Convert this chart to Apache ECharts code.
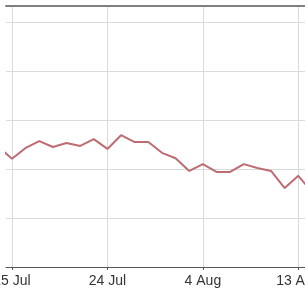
<!DOCTYPE html>
<html>
<head>
<meta charset="utf-8">
<script src="https://cdn.jsdelivr.net/npm/echarts@6/dist/echarts.min.js"></script>
<style>
  html, body { margin: 0; padding: 0; background: #fff; }
  #chart { width: 305px; height: 293px; }
</style>
</head>
<body>
<div id="chart"></div>
<script>
// trading days, 15 Jul is day 0
var days = ['14 Jul', '15 Jul', '16 Jul', '17 Jul', '18 Jul', '21 Jul', '22 Jul', '23 Jul',
            '24 Jul', '25 Jul', '28 Jul', '29 Jul', '30 Jul', '31 Jul', '1 Aug', '4 Aug',
            '5 Aug', '6 Aug', '7 Aug', '8 Aug', '11 Aug', '12 Aug', '13 Aug', '14 Aug'];
var prices = [64.5, 62.1, 64.3, 65.7, 64.5, 65.3, 64.7, 66.1,
              64.1, 66.9, 65.5, 65.5, 63.3, 62.2, 59.6, 61.0,
              59.4, 59.4, 61.0, 60.2, 59.6, 56.1, 58.6, 55.3];
var labelDays = [0, 7, 14, 21];

var chart = echarts.init(document.getElementById('chart'));

var points = [];
for (var i = 0; i < days.length; i++) {
  points.push([i - 1, prices[i]]);
}

var gridColor = '#dadada';

chart.setOption({
  animation: false,
  grid: { left: 6, right: 0, top: 6, bottom: 26, containLabel: false, outerBoundsMode: 'none' },
  xAxis: [{
    type: 'value',
    min: -0.44,
    max: 21.49,
    axisLine: { show: true, onZero: false, lineStyle: { color: '#555', width: 1 } },
    axisTick: { show: true, length: 3, customValues: labelDays, lineStyle: { color: '#555' } },
    axisLabel: {
      margin: 7,
      color: '#333',
      fontFamily: 'Liberation Sans',
      fontSize: 14,
      hideOverlap: false,
      customValues: labelDays,
      formatter: function (v) {
        return days[Math.round(v) + 1] || '';
      }
    },
    splitLine: { show: true, lineStyle: { color: gridColor, width: 1 } }
  }, {
    type: 'value',
    position: 'top',
    min: 0,
    max: 1,
    axisLine: { show: true, onZero: false, lineStyle: { color: '#808080', width: 2 } },
    axisTick: { show: false },
    axisLabel: { show: false },
    splitLine: { show: false }
  }],
  yAxis: {
    type: 'value',
    min: 40,
    max: 93.27,
    interval: 10,
    axisLine: { show: false },
    axisTick: { show: false },
    axisLabel: { show: false },
    splitLine: { lineStyle: { color: gridColor, width: 1 } }
  },
  series: [{
    type: 'line',
    data: points,
    showSymbol: false,
    clip: true,
    lineStyle: { color: '#bd6c73', width: 2 }
  }]
});
</script>
</body>
</html>
